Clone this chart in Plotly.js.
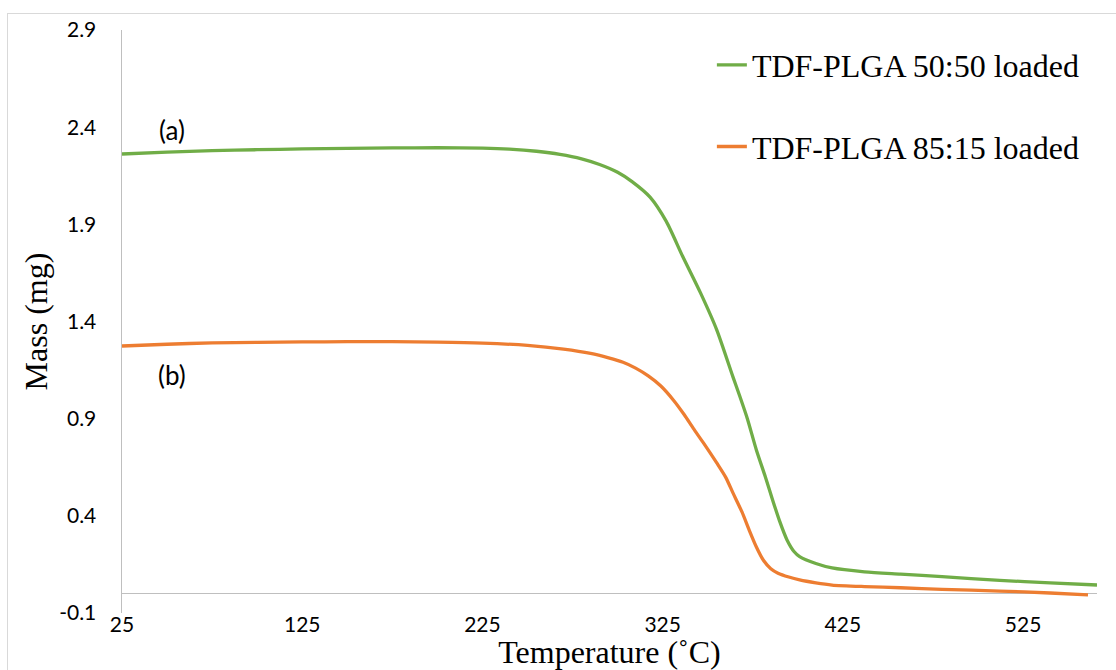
<!DOCTYPE html>
<html>
<head>
<meta charset="utf-8">
<script src="https://cdn.plot.ly/plotly-3.0.1.min.js"></script>
<style>
  html, body { margin: 0; padding: 0; background: #fff; }
  #wrap { position: relative; width: 1116px; height: 670px; overflow: hidden; }
  #chart { position: absolute; left: 0; top: 0; width: 1116px; height: 670px; }
  #frame { position: absolute; left: 7px; top: 13px; width: 1200px; height: 800px;
           border-left: 1.5px solid #d9d9d9; border-top: 1.5px solid #d9d9d9; pointer-events: none; }
</style>
</head>
<body>
<div id="wrap">
  <div id="chart"></div>
  <div id="frame"></div>
</div>
<script>
// Temperature (°C) and mass (mg)
const tempA = [25, 50, 75, 100, 125, 150, 175, 200, 225, 240, 255, 268, 280, 290, 300, 308, 318, 327, 336, 346, 355, 364, 368, 372, 377, 382, 386, 390, 394, 398, 401, 410, 419, 437, 457, 480, 512, 540, 566];
const massA = [2.262, 2.272, 2.279, 2.284, 2.288, 2.291, 2.293, 2.294, 2.292, 2.287, 2.276, 2.260, 2.237, 2.208, 2.168, 2.120, 2.040, 1.915, 1.737, 1.547, 1.357, 1.115, 1.010, 0.900, 0.739, 0.600, 0.482, 0.370, 0.276, 0.215, 0.190, 0.155, 0.132, 0.112, 0.100, 0.087, 0.068, 0.055, 0.044];

const tempB = [25, 50, 75, 100, 125, 150, 175, 200, 225, 250, 270, 285, 295, 303, 310, 317, 324, 331, 337, 342, 348, 355, 360, 364, 369, 373, 377, 381, 385, 389, 395, 401, 410, 419, 437, 457, 480, 512, 540, 561];
const massB = [1.274, 1.283, 1.290, 1.293, 1.295, 1.296, 1.296, 1.294, 1.289, 1.277, 1.258, 1.236, 1.213, 1.190, 1.160, 1.120, 1.068, 0.995, 0.920, 0.850, 0.770, 0.672, 0.598, 0.518, 0.420, 0.327, 0.240, 0.170, 0.128, 0.105, 0.085, 0.070, 0.055, 0.044, 0.036, 0.030, 0.022, 0.013, 0.003, -0.007];

const seriesNames = ["TDF-PLGA 50:50 loaded", "TDF-PLGA 85:15 loaded"];
const labelTexts = ["(a)", "(b)"];
const labelPos = [[53, 2.386], [53, 1.125]];

const xTickVals = [25, 125, 225, 325, 425, 525];
const yTickVals = [-0.1, 0.4, 0.9, 1.4, 1.9, 2.4, 2.9];
const yTickText = ["-0.1", "0.4", "0.9", "1.4", "1.9", "2.4", "2.9"];

const sans = "Lato, 'Open Sans', sans-serif";
const tickFont = {family: sans, size: 21, color: "#000"};
const serif = "'Liberation Serif', 'Times New Roman', serif";

const traces = [
  {x: tempA, y: massA, name: seriesNames[0], type: "scatter", mode: "lines",
   line: {color: "#70ad47", width: 3.3, shape: "spline", smoothing: 0.7}, legendgroup: "a"},
  {x: tempB, y: massB, name: seriesNames[1], type: "scatter", mode: "lines",
   line: {color: "#ed7d31", width: 3.3, shape: "spline", smoothing: 0.7}, legendgroup: "b"}
];

const layout = {
  width: 1116, height: 670,
  margin: {l: 122, r: 19, t: 30, b: 57},
  paper_bgcolor: "#fff", plot_bgcolor: "#fff",
  showlegend: true,
  legend: {x: 0.605, y: 0.987, xanchor: "left", yanchor: "top",
           font: {family: serif, size: 32, color: "#000"},
           traceorder: "grouped", tracegroupgap: 37, bgcolor: "rgba(0,0,0,0)"},
  xaxis: {range: [25, 566], tickmode: "array", tickvals: xTickVals,
          showgrid: false, zeroline: false, showline: false, ticks: "",
          tickfont: tickFont, ticklabelstandoff: -3,
          title: {text: "Temperature (˚C)", font: {family: serif, size: 32, color: "#000"}, standoff: 2}},
  yaxis: {range: [-0.1, 2.9], tickmode: "array", tickvals: yTickVals, ticktext: yTickText,
          showgrid: false, zeroline: true, zerolinecolor: "#bfbfbf", zerolinewidth: 1.5,
          showline: true, linecolor: "#bfbfbf", linewidth: 1.5, ticks: "",
          tickfont: tickFont, ticklabelstandoff: 20,
          title: {text: "Mass (mg)", font: {family: serif, size: 32, color: "#000"}, standoff: 2}},
  annotations: labelTexts.map((t, i) => ({
    x: labelPos[i][0], y: labelPos[i][1], xref: "x", yref: "y", text: t, showarrow: false,
    font: {family: sans, size: 26, color: "#000"}
  }))
};

Plotly.newPlot("chart", traces, layout, {displayModeBar: false, staticPlot: true});
</script>
</body>
</html>
